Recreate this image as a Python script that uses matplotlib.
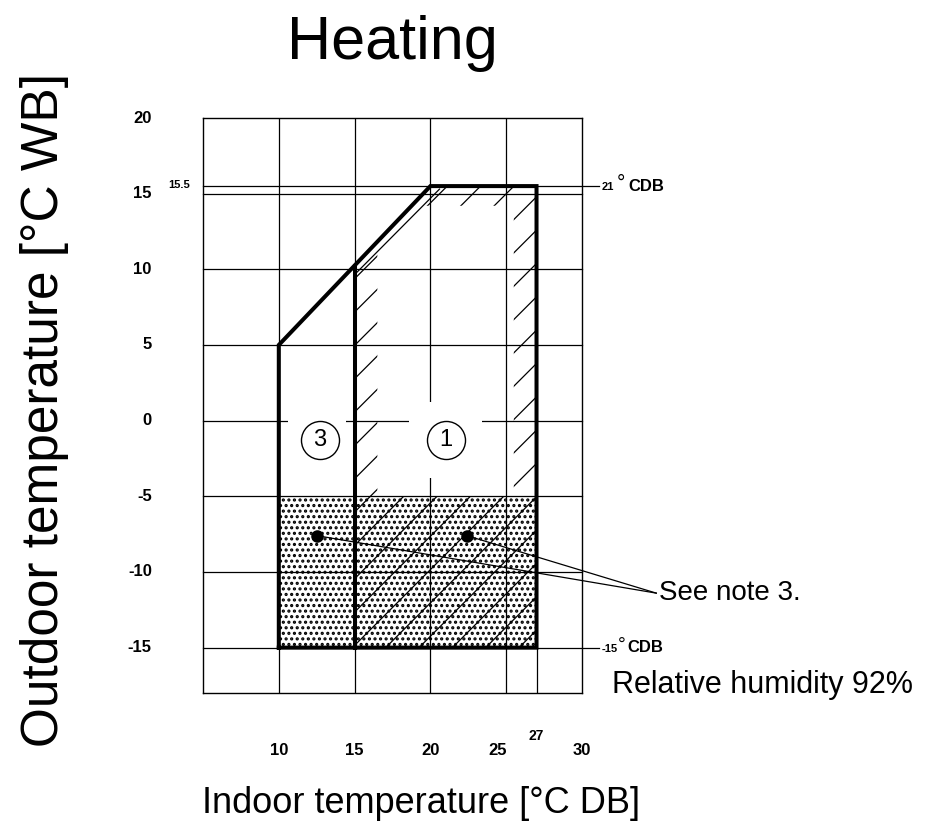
import matplotlib
matplotlib.use('Agg')
import matplotlib.pyplot as plt
import matplotlib.transforms as mtransforms
from matplotlib import font_manager
from matplotlib.path import Path
from matplotlib.patches import PathPatch, Rectangle

# operating envelope: indoor DB (x) vs outdoor WB (y)
envelope_x = [10, 10, 20, 27, 27, 10]
envelope_y = [-15, 5, 15.5, 15.5, -15, -15]
split_x = [15, 15]
split_y = [-15, 10.25]

# hatched band inside zone 1 (outer edge, inner edge)
band_outer_x = [15, 15, 20, 27, 27]
band_outer_y = [-15, 10.25, 15.5, 15.5, -15]
band_inner_x = [16.5, 25.5, 25.5, 19.4, 16.5]
band_inner_y = [-5, -5, 14.2, 14.2, 11.2]
guide_x = [15, 20.6]
guide_y = [9.65, 15.3]

# dotted low temperature zone
dots_x = [10, 27]
dots_y = [-15, -5]
note_x = [12.5, 22.4]
note_y = [-7.6, -7.6]
note_target = (34.9, -11.4)

zone_labels = ['3', '1']
zone_x = [12.7, 21.0]
zone_y = [-1.25, -1.25]
gap_x = [(10.6, 14.4), (18.6, 23.4)]
gap_y = (-3.8, 1.2)

x_ticks = [10, 15, 20, 25, 30]
y_ticks = [20, 15, 10, 5, 0, -5, -10, -15]
grid_x = [10, 15, 20, 25]
grid_y = [-15, -10, -5, 0, 5, 10, 15, 15.5]

installed = {f.name for f in font_manager.fontManager.ttflist}
narrow = 'Liberation Sans Narrow' if 'Liberation Sans Narrow' in installed else 'Liberation Sans'
plt.rcParams['font.family'] = ['Liberation Sans', 'DejaVu Sans']
plt.rcParams['hatch.linewidth'] = 0.9

fig = plt.figure(figsize=(9.25, 8.3), dpi=100)
ax = fig.add_axes([203/925, 1-693/830, 379/925, 575/830])
ax.set_xlim(5, 30)
ax.set_ylim(-18, 20)
for s in ax.spines.values():
    s.set_linewidth(1.0)
ax.set_xticks([])
ax.set_yticks([])

# grid
for gx in grid_x:
    ax.plot([gx, gx], [-18, 20], color='black', lw=0.9, zorder=1)
for gy in grid_y:
    end = 31.1 if gy in (15.5, -15) else 30
    ax.plot([5, end], [gy, gy], color='black', lw=0.9, zorder=1, clip_on=False)
ax.plot([27, 27], [-18, -15], color='black', lw=0.9, zorder=1)

# white gaps around circled zone numbers
for (x0, x1) in gap_x:
    ax.add_patch(Rectangle((x0, gap_y[0]), x1-x0, gap_y[1]-gap_y[0],
                           fc='white', ec='none', zorder=1.5))

# hatched band
verts = list(zip(band_outer_x, band_outer_y)) + [(0, 0)]
verts += list(zip(band_inner_x, band_inner_y)) + [(0, 0)]
codes = ([Path.MOVETO] + [Path.LINETO]*(len(band_outer_x)-1) + [Path.CLOSEPOLY]) * 2
ax.add_patch(PathPatch(Path(verts, codes), fc='none', ec='black', lw=0,
                       hatch='/', zorder=2))
ax.plot(guide_x, guide_y, color='black', lw=0.9, zorder=2)

# dots
dotted = Rectangle((dots_x[0], dots_y[0]), dots_x[1]-dots_x[0], dots_y[1]-dots_y[0],
                   fc='none', ec='black', lw=0, hatch='...', zorder=2)
if hasattr(dotted, 'set_hatch_linewidth'):
    dotted.set_hatch_linewidth(1.5)
ax.add_patch(dotted)

# envelope outline
ax.plot(envelope_x, envelope_y, color='black', lw=2.9, zorder=4,
        solid_joinstyle='miter')
ax.plot(split_x, split_y, color='black', lw=2.9, zorder=4)

# zone numbers
ax.scatter(zone_x, zone_y, s=750, facecolor='white', edgecolor='black',
           linewidth=1.0, zorder=5)
for lab, zx, zy in zip(zone_labels, zone_x, zone_y):
    ax.text(zx, zy, lab, ha='center', va='center', fontsize=17, zorder=6)

# note markers
ax.plot(note_x, note_y, 'o', color='black', ms=8, zorder=6)
for nx, ny in zip(note_x, note_y):
    ax.plot([nx, note_target[0]], [ny, note_target[1]], color='black', lw=0.9,
            zorder=6, clip_on=False)
ax.text(note_target[0] + 0.2, note_target[1], 'See note 3.', fontsize=20,
        ha='left', va='center')

# limit labels at the right
for yv, num in [(15.5, '21'), (-15, '-15')]:
    ax.annotate(num, xy=(31.1, yv), xytext=(2, -1), textcoords='offset points',
                ha='left', va='center', fontsize=8, fontweight='bold', family=narrow,
                annotation_clip=False)
ax.annotate('°', xy=(31.1, 15.5), xytext=(13, 2), textcoords='offset points',
            ha='left', va='center', fontsize=15, annotation_clip=False)
ax.annotate('CDB', xy=(31.1, 15.5), xytext=(21.5, 0), textcoords='offset points',
            ha='left', va='center', fontsize=12, fontweight='bold', family=narrow,
            annotation_clip=False)
ax.annotate('°', xy=(31.1, -15), xytext=(13.5, 2), textcoords='offset points',
            ha='left', va='center', fontsize=14, annotation_clip=False)
ax.annotate('CDB', xy=(31.1, -15), xytext=(20.5, 0), textcoords='offset points',
            ha='left', va='center', fontsize=12, fontweight='bold', family=narrow,
            annotation_clip=False)
ax.text(32.0, -17.5, 'Relative humidity 92%', fontsize=22, ha='left', va='center')

# tick labels
xt = mtransforms.blended_transform_factory(ax.transData, ax.transAxes)
for xv in x_ticks:
    shift = -0.55 if xv == 25 else 0
    ax.text(xv + shift, -0.1, str(xv), transform=xt, ha='center', va='center',
            fontsize=12, fontweight='bold', family=narrow)
ax.text(27, -0.075, '27', transform=xt, ha='center', va='center',
        fontsize=10, fontweight='bold', family=narrow)
yt = mtransforms.blended_transform_factory(ax.transAxes, ax.transData)
for yv in y_ticks:
    ax.text(-0.135, yv, str(yv), transform=yt, ha='right', va='center',
            fontsize=12, fontweight='bold', family=narrow)
ax.text(-0.035, 15.6, '15.5', transform=yt, ha='right', va='center',
        fontsize=8, fontweight='bold', family=narrow)

fig.text(392/925, 1-44/830, 'Heating', fontsize=44, ha='center', va='center')
fig.text(45/925, 1-410/830, 'Outdoor temperature [°C WB]', fontsize=37,
         rotation=90, ha='center', va='center')
fig.text(421/925, 1-803/830, 'Indoor temperature [°C DB]', fontsize=26,
         ha='center', va='center')

fig.savefig('out.png', dpi=100)
